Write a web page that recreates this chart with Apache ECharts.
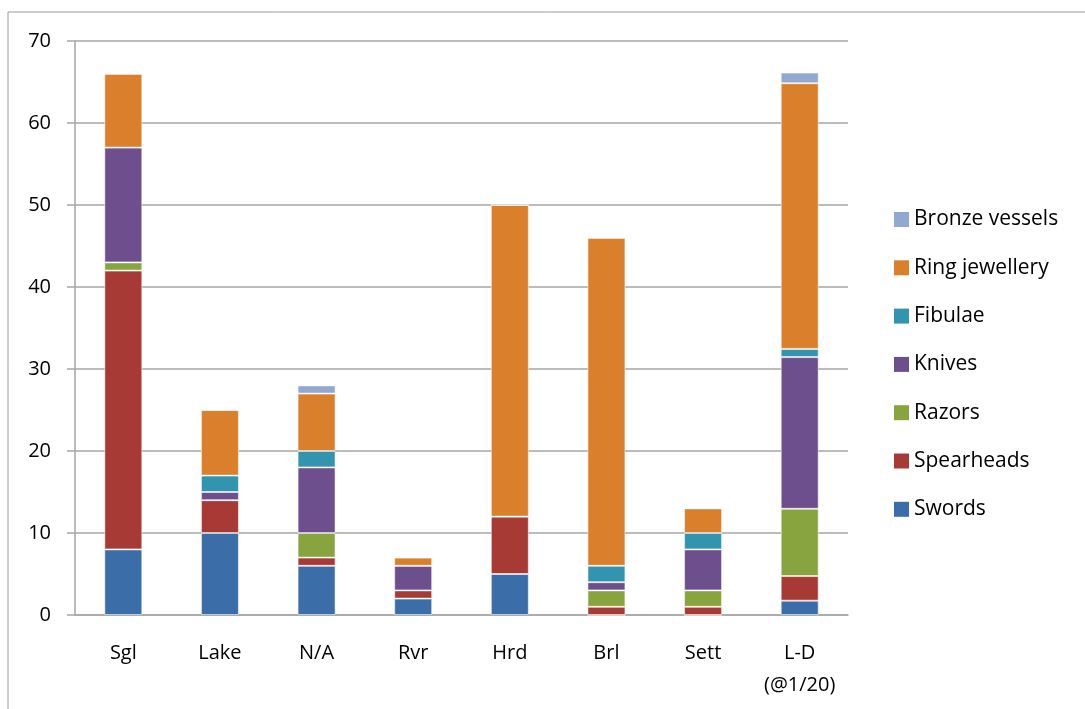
<!DOCTYPE html>
<html lang="en" style="height: 100%">

<head>
  <meta charset="utf-8">
</head>

<body style="height: 100%; margin: 0">
  <div id="container" style="height: 100%"></div>

  <script type="text/javascript" src="https://fastly.jsdelivr.net/npm/echarts@6.0.0/dist/echarts.min.js"></script>

  <script type="text/javascript">
    var sites = ['Sgl', 'Lake', 'N/A', 'Rvr', 'Hrd', 'Brl', 'Sett', 'L-D\n(@1/20)'];

    var swords = [8, 10, 6, 2, 5, 0, 0, 1.75];
    var spearheads = [34, 4, 1, 1, 7, 1, 1, 3];
    var razors = [1, 0, 3, 0, 0, 2, 2, 8.2];
    var knives = [14, 1, 8, 3, 0, 1, 5, 18.5];
    var fibulae = [0, 2, 2, 0, 0, 2, 2, 1];
    var ringJewellery = [9, 8, 7, 1, 38, 40, 3, 32.4];
    var bronzeVessels = [0, 0, 1, 0, 0, 0, 0, 1.3];

    var yTicks = [0, 10, 20, 30, 40, 50, 60, 70];

    var dom = document.getElementById('container');
    var myChart = echarts.init(dom, null, { renderer: 'canvas' });

    var font = '"Open Sans", sans-serif';
    var axisGrey = '#a6a6a6';

    function bar(name, values, color) {
      return {
        name: name,
        type: 'bar',
        stack: 'total',
        barWidth: 38,
        data: values,
        itemStyle: {
          color: color,
          borderColor: 'rgba(255,255,255,0.55)',
          borderWidth: 1
        }
      };
    }

    var option = {
      animation: false,
      backgroundColor: '#fff',
      textStyle: { fontFamily: font },
      graphic: [{
        type: 'polyline',
        shape: { points: [[8, 709], [8, 12], [1085, 12]] },
        style: { stroke: '#9a9a9a', lineWidth: 1, fill: null }
      }],
      grid: { left: 75, right: 237, top: 41, bottom: 94 },
      legend: {
        orient: 'vertical',
        left: 889,
        top: 204,
        itemWidth: 15,
        itemHeight: 15,
        itemGap: 27.3,
        itemStyle: { borderWidth: 0 },
        icon: 'rect',
        textStyle: { fontSize: 21, color: '#000', fontFamily: font },
        data: ['Bronze vessels', 'Ring jewellery', 'Fibulae', 'Knives', 'Razors', 'Spearheads', 'Swords']
      },
      xAxis: {
        type: 'category',
        data: sites,
        axisLine: { lineStyle: { color: axisGrey, width: 1.5 } },
        axisTick: { length: 8, lineStyle: { color: axisGrey, width: 1.5 } },
        axisLabel: { color: '#000', fontSize: 20, margin: 22, lineHeight: 32, fontFamily: font }
      },
      yAxis: {
        type: 'value',
        min: 0,
        max: 70,
        interval: 10,
        axisLine: { show: true, lineStyle: { color: axisGrey, width: 1.5 } },
        axisTick: { show: true, length: 8, lineStyle: { color: axisGrey, width: 1.5 } },
        splitLine: { lineStyle: { color: axisGrey, width: 1.5 } },
        axisLabel: {
          color: '#000', fontSize: 20, margin: 24, fontFamily: font,
          formatter: function (v) { return yTicks.indexOf(v) >= 0 ? String(v) : ''; }
        }
      },
      series: [
        bar('Swords', swords, '#3b6ea8'),
        bar('Spearheads', spearheads, '#a83a36'),
        bar('Razors', razors, '#87a43f'),
        bar('Knives', knives, '#6c4f8c'),
        bar('Fibulae', fibulae, '#3294ae'),
        bar('Ring jewellery', ringJewellery, '#da7f2b'),
        bar('Bronze vessels', bronzeVessels, '#92a8d1')
      ]
    };

    myChart.setOption(option);
    window.addEventListener('resize', myChart.resize);
  </script>
</body>

</html>
